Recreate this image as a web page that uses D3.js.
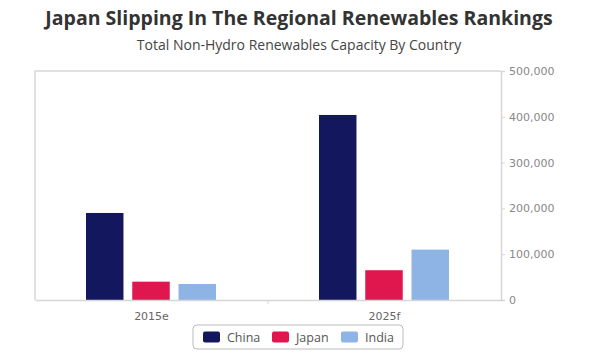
<!DOCTYPE html>
<html>
<head>
<meta charset="utf-8">
<script src="https://cdn.jsdelivr.net/npm/d3@7"></script>
<style>
  body { margin: 0; background: #fff; }
  svg { display: block; font-family: 'Open Sans', sans-serif; }
</style>
</head>
<body>
<svg id="chart" width="600" height="361"></svg>
<script>
// Total non-hydro renewables capacity by country
const categories = ['2015e', '2025f']
const seriesNames = ['China', 'Japan', 'India']
const china = [190000, 404000]
const japan = [40000, 65000]
const india = [35000, 110000]
const yTicks = [0, 100000, 200000, 300000, 400000, 500000]
const colors = ['#13175e', '#e0174f', '#8eb4e6']

const values = [china, japan, india]
const rows = categories.map((c, i) => ({ cat: c, vals: values.map(v => v[i]) }))

const svg = d3.select('#chart')
const margin = { left: 35, right: 99, top: 71, bottom: 61 }
const width = 600 - margin.left - margin.right
const height = 361 - margin.top - margin.bottom

svg.append('text')
  .attr('x', 299).attr('y', 25)
  .attr('text-anchor', 'middle')
  .attr('font-size', 19.5).attr('font-weight', 700)
  .attr('fill', '#333')
  .text('Japan Slipping In The Regional Renewables Rankings')

svg.append('text')
  .attr('x', 299).attr('y', 50)
  .attr('text-anchor', 'middle')
  .attr('font-size', 14)
  .attr('fill', '#444')
  .text('Total Non-Hydro Renewables Capacity By Country')

const g = svg.append('g').attr('transform', `translate(${margin.left},${margin.top})`)

const x = d3.scaleBand().domain(categories).range([0, width])
const x1 = d3.scaleBand().domain(seriesNames).range([51, 181]).paddingInner(0.19)
const y = d3.scaleLinear().domain([0, 500000]).range([height, 0])

// frame: left + top
g.append('path')
  .attr('d', `M0,${height}V0H${width}`)
  .attr('fill', 'none')
  .attr('stroke', '#d6d6d6')
  .attr('stroke-width', 1.5)

// bars
const grp = g.selectAll('.grp').data(rows).enter().append('g')
  .attr('transform', d => `translate(${x(d.cat)},0)`)

grp.selectAll('rect').data(d => d.vals.map((v, i) => ({ name: seriesNames[i], v, i })))
  .enter().append('rect')
  .attr('x', d => x1(d.name))
  .attr('width', x1.bandwidth())
  .attr('y', d => y(d.v))
  .attr('height', d => height - y(d.v))
  .attr('fill', d => colors[d.i])

// x axis
const xAxis = g.append('g')
  .attr('transform', `translate(0,${height})`)
  .call(d3.axisBottom(x).tickSize(0).tickPadding(16))
xAxis.select('.domain').attr('stroke', '#d6d6d6').attr('stroke-width', 1.5)
xAxis.selectAll('text').attr('font-size', 11).attr('fill', '#666').attr('font-family', "'DejaVu Sans', sans-serif").attr('dx', 0).attr('dy', '0.35em')
g.append('line')
  .attr('x1', x.step()).attr('x2', x.step())
  .attr('y1', height).attr('y2', height + 4)
  .attr('stroke', '#d6d6d6')

// y axis on the right
const yAxis = g.append('g')
  .attr('transform', `translate(${width},0)`)
  .call(d3.axisRight(y).tickValues(yTicks).tickSize(4).tickPadding(4)
    .tickFormat(d3.format(',')))
yAxis.select('.domain').attr('stroke', '#d6d6d6').attr('stroke-width', 1.5)
yAxis.selectAll('line').attr('stroke', '#d6d6d6')
yAxis.selectAll('text').attr('font-size', 11).attr('fill', '#888').attr('font-family', "'DejaVu Sans', sans-serif")

// legend
const legend = svg.append('g').attr('transform', 'translate(193,325)')
legend.append('rect')
  .attr('width', 210).attr('height', 24).attr('rx', 4)
  .attr('fill', '#fff').attr('stroke', '#bbb')
const offsets = [10, 79, 148]
const item = legend.selectAll('.item').data(seriesNames).enter().append('g')
  .attr('transform', (d, i) => `translate(${offsets[i]},0)`)
item.append('rect')
  .attr('y', 6.5).attr('width', 17).attr('height', 11).attr('rx', 2)
  .attr('fill', (d, i) => colors[i])
item.append('text')
  .attr('x', 24).attr('y', 17)
  .attr('font-size', 12.5).attr('fill', '#555')
  .text(d => d)
</script>
</body>
</html>
